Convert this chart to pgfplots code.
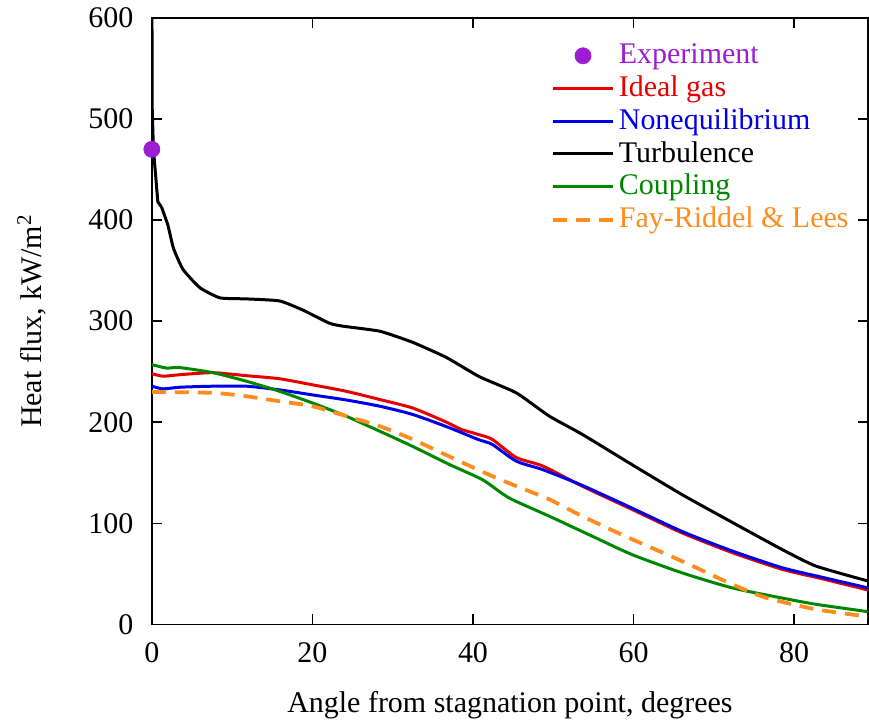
\documentclass[border=0pt]{standalone}
\usepackage{pgfplots}
\pgfplotsset{compat=1.18}
\usepackage{fontspec}
\setmainfont{Liberation Serif}
\definecolor{cexp}{RGB}{155,30,210}
\definecolor{cred}{RGB}{230,0,0}
\definecolor{cblue}{RGB}{0,0,230}
\definecolor{cgreen}{RGB}{0,135,0}
\definecolor{corange}{RGB}{255,140,30}
\pgfplotsset{
  linelegend/.style={legend image code/.code={\draw[##1] (0pt,0pt) -- (30pt,0pt);}},
  marklegend/.style={legend image code/.code={\draw[mark repeat=2,mark phase=2,##1] plot coordinates {(0pt,0pt)(15pt,0pt)(30pt,0pt)};}},
}
\begin{document}
\begin{tikzpicture}
\fontsize{15}{18}\selectfont
\begin{axis}[
  scale only axis,
  width=358.5pt, height=303.5pt,
  xmin=0, xmax=89.2, ymin=0, ymax=600,
  xtick={0,20,40,60,80}, ytick={0,100,200,300,400,500,600},
  xticklabels={0,20,40,60,80},
  yticklabels={0,100,200,300,400,500,600},
  tick align=inside, major tick length=5pt,
  axis line style={line width=0.7pt}, tick style={line width=0.7pt, black},
  /pgf/number format/assume math mode=true,
  ticklabel style={font=\rmfamily\fontsize{15}{18}\selectfont},
  xticklabel style={yshift=-4pt},
  yticklabel style={xshift=-4pt},
  label style={font=\fontsize{15}{18}\selectfont},
  xlabel={Angle from stagnation point, degrees},
  ylabel={Heat flux, kW/m\textsuperscript{2}},
  xlabel style={yshift=-4pt},
  ylabel style={yshift=11pt},
  legend style={draw=none, fill=none, at={(0.557,0.965)}, anchor=north west,
    font=\fontsize{15}{18}\selectfont, row sep=-0.2pt, inner sep=0pt},
  legend cell align=left,
]
\addplot[only marks, mark=*, mark size=4pt, color=cexp, marklegend] coordinates {(0,470)};
\addlegendentry{\textcolor{cexp}{Experiment}}
\addplot[cred, line width=1.5pt, smooth, tension=0.4, linelegend] coordinates {
(0,248)(1.4,245.5)(3.5,247)(7.6,249)(11.8,246)(15.9,243)(20,237)(24.2,230.6)(28.4,222.4)(32.5,214)(36.7,200)(38.5,193)(40.6,188)(42.4,183)(45.4,165)(48.7,156.6)(53.6,136.7)(59.8,113.7)(66,90.6)(72.3,70.9)(78.5,54.4)(83.5,45)(89.2,33.9)};
\addlegendentry{\textcolor{cred}{Ideal gas}}
\addplot[cblue, line width=1.5pt, smooth, tension=0.4, linelegend] coordinates {
(0,235.6)(1.4,233)(3.5,234.6)(7.6,235.6)(11.8,235.6)(15.9,232)(20,227)(24.2,222)(28.4,215.8)(32.5,207.6)(36.9,195)(40.6,183)(42.4,178)(45.4,161.4)(48.7,153)(53.6,137.5)(59.8,115)(66,92)(72.3,72.5)(78.5,56)(83.5,46.5)(89.2,36)};
\addlegendentry{\textcolor{cblue}{Nonequilibrium}}
\addplot[black, line width=1.5pt, forget plot] coordinates {
(0,650)(0.05,510)(0.2,470)(0.75,418)(1.2,413)};
\addplot[black, line width=1.5pt, smooth, tension=0.3, linelegend] coordinates {
(1.2,413)(2.0,395)(2.7,372)(3.9,351)(6.0,333)(8.5,323)(11.8,322)(15.9,320)(18.8,311)(22.1,298)(23.8,295)(28.4,290)(32.5,279)(36.7,264)(40.8,245)(45.4,229)(49.5,206)(53.6,188)(59.8,158)(66,128.5)(72.3,100.8)(78.5,74)(82.7,57.6)(89.2,42.8)};
\addlegendentry{\textcolor{black}{Turbulence}}
\addplot[cgreen, line width=1.5pt, smooth, tension=0.4, linelegend] coordinates {
(0,257)(1.8,253.6)(3.5,254)(7.6,249)(11.8,240.5)(15.9,230.6)(20,219)(24.2,206)(28.4,191)(32.5,176)(37.1,158)(41.2,143)(44.5,125)(49.5,107)(54.9,87)(59.8,69)(66,51)(72.3,36)(78.5,26)(82.7,19.8)(89.2,12.5)};
\addlegendentry{\textcolor{cgreen}{Coupling}}
\addplot[corange, line width=1.9pt, dash pattern=on 7pt off 4.5pt, smooth, tension=0.4, linelegend] coordinates {
(0,230)(7.6,229)(11.8,225.6)(15.9,220.7)(20,215.8)(24.2,206)(28.4,196)(32.5,183)(38.3,161.4)(42.4,146.6)(45.4,136.7)(49.5,123.6)(53.6,107)(59,87)(66,62.6)(72.3,39.5)(76.5,26.3)(82.7,14.8)(89.2,7.6)};
\addlegendentry{\textcolor{corange}{Fay-Riddel \& Lees}}
\end{axis}
\pgfresetboundingbox
\path (-76pt,-48.5pt) rectangle (359pt,312.5pt);
\end{tikzpicture}
\end{document}
